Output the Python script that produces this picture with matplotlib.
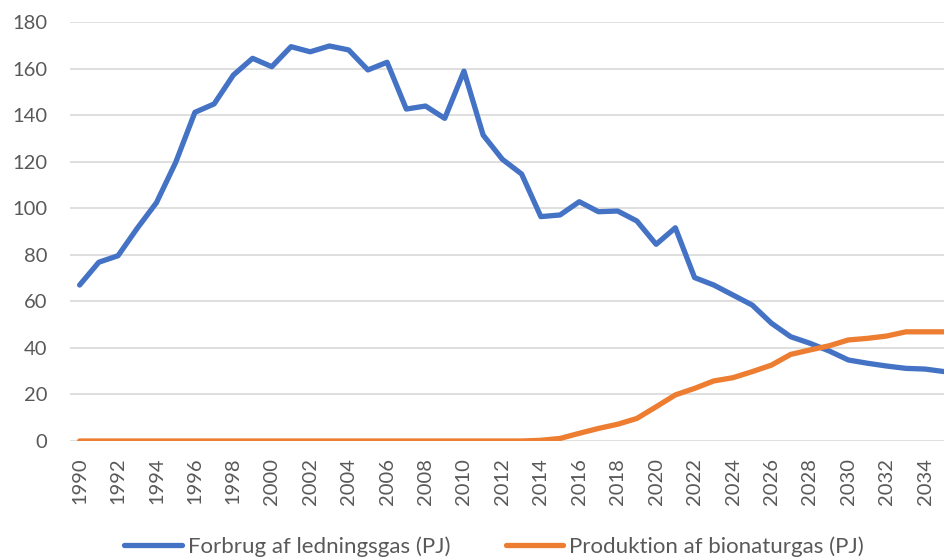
import matplotlib
matplotlib.use("Agg")
import matplotlib.pyplot as plt

plt.rcParams["font.family"] = ["Lato", "DejaVu Sans"]

years = list(range(1990, 2036))

# Forbrug af ledningsgas (PJ)
forbrug = [67.0, 76.8, 79.6, 91.4, 102.4, 119.7, 141.2, 144.8, 157.2, 164.4,
           160.8, 169.4, 167.2, 169.7, 168.0, 159.4, 162.7, 142.6, 143.9, 138.6,
           158.9, 131.4, 121.0, 114.7, 96.4, 97.1, 102.8, 98.5, 98.8, 94.5,
           84.5, 91.6, 70.2, 67.0, 62.7, 58.4, 50.6, 44.8, 42.0, 38.7,
           34.8, 33.4, 32.2, 31.2, 30.9, 29.8]

# Produktion af bionaturgas (PJ)
bionaturgas = [0.0] * 24 + [0.3, 1.1, 3.3, 5.4, 7.2, 9.7,
                            14.7, 19.8, 22.6, 25.8, 27.2, 29.8, 32.6, 37.2, 39.1, 40.9,
                            43.4, 44.1, 45.1, 46.9, 46.9, 46.9]

labels = ["Forbrug af ledningsgas (PJ)", "Produktion af bionaturgas (PJ)"]
yticks = list(range(0, 181, 20))
xticks = list(range(1990, 2035, 2))

BLUE = "#4472C4"
ORANGE = "#ED7D31"
GREY = "#595959"

fig = plt.figure(figsize=(9.45, 5.6), dpi=100)
ax = fig.add_axes([70 / 945, 119 / 560, 884 / 945, 419 / 560])

ax.plot(years, forbrug, color=BLUE, lw=3.8, solid_capstyle="round",
        solid_joinstyle="round", label=labels[0], zorder=3)
ax.plot(years, bionaturgas, color=ORANGE, lw=3.8, solid_capstyle="round",
        solid_joinstyle="round", label=labels[1], zorder=3)

ax.set_xlim(1989.5, 2035.5)
ax.set_ylim(0, 180)
ax.set_yticks(yticks)
ax.set_xticks(xticks)
ax.set_xticklabels([str(x) for x in xticks], rotation=90)
ax.tick_params(axis="both", length=0, labelsize=14.5, colors=GREY)
ax.tick_params(axis="y", pad=16.5)
ax.tick_params(axis="x", pad=12)
ax.grid(axis="y", color="#D9D9D9", lw=1.2, zorder=0)
for s in ax.spines.values():
    s.set_visible(False)

fig.legend(loc="lower left", bbox_to_anchor=(112 / 945, -0.016), ncol=2,
           frameon=False, fontsize=16, handlelength=2.6, handletextpad=0.25,
           columnspacing=2.5, labelcolor=GREY, borderaxespad=0.15)

fig.savefig("out.png", dpi=100)
